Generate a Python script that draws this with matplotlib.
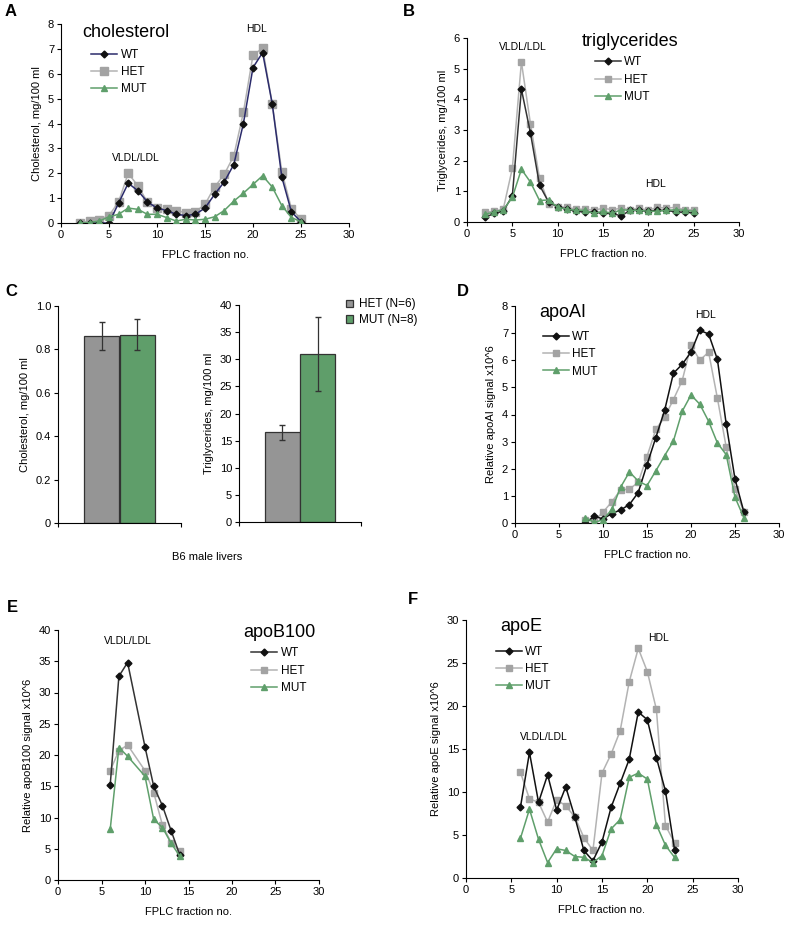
import numpy as np
import matplotlib
matplotlib.use("Agg")
import matplotlib.pyplot as plt

plt.rcParams['font.family'] = ['Liberation Sans', 'DejaVu Sans']
plt.rcParams['font.size'] = 8

# colours
c_wt = '#111111'
c_het = '#a3a3a3'
c_mut = '#5f9f6b'

# panel A: cholesterol
a_x = list(range(2, 26))
a_wt = [0.0, 0.0, 0.0, 0.0, 0.8, 1.6, 1.3, 0.85, 0.6, 0.5, 0.35, 0.3, 0.35, 0.6,
        1.15, 1.65, 2.35, 4.0, 6.25, 6.85, 4.8, 1.85, 0.45, 0.05]
a_het = [0.02, 0.07, 0.13, 0.3, 0.85, 2.0, 1.5, 0.85, 0.6, 0.55, 0.5, 0.42, 0.45, 0.75,
         1.45, 1.95, 2.7, 4.45, 6.75, 7.03, 4.8, 2.07, 0.58, 0.15]
a_mut = [0.0, 0.02, 0.08, 0.25, 0.35, 0.6, 0.55, 0.35, 0.35, 0.22, 0.08, 0.15, 0.12, 0.15,
         0.25, 0.5, 0.88, 1.2, 1.55, 1.9, 1.45, 0.7, 0.22, 0.05]

# panel B: triglycerides
b_x = list(range(2, 26))
b_wt = [0.15, 0.28, 0.35, 0.85, 4.33, 2.9, 1.2, 0.65, 0.5, 0.42, 0.35, 0.33, 0.33, 0.28,
        0.28, 0.2, 0.38, 0.38, 0.35, 0.38, 0.38, 0.33, 0.32, 0.3]
b_het = [0.32, 0.35, 0.42, 1.75, 5.22, 3.2, 1.42, 0.6, 0.5, 0.48, 0.42, 0.42, 0.38, 0.45,
         0.4, 0.45, 0.4, 0.45, 0.38, 0.48, 0.45, 0.48, 0.4, 0.4]
b_mut = [0.25, 0.33, 0.4, 0.8, 1.72, 1.3, 0.7, 0.72, 0.48, 0.42, 0.38, 0.38, 0.28, 0.35,
         0.28, 0.4, 0.38, 0.38, 0.35, 0.35, 0.38, 0.4, 0.38, 0.35]

# panel C: liver lipids
c_groups = ['HET (N=6)', 'MUT (N=8)']
c_chol = [0.863, 0.868]
c_chol_err = [0.065, 0.071]
c_tg = [16.5, 31.0]
c_tg_err = [1.35, 6.85]

# panel D: apoAI
d_x = list(range(8, 27))
d_wt = [0.0, 0.25, 0.15, 0.35, 0.48, 0.68, 1.12, 2.15, 3.15, 4.15, 5.52, 5.85, 6.3, 7.1,
        6.97, 6.03, 3.65, 1.62, 0.42]
d_het = [0.1, 0.08, 0.4, 0.78, 1.22, 1.25, 1.5, 2.45, 3.45, 3.9, 4.55, 5.25, 6.55, 6.0,
         6.3, 4.6, 2.8, 1.25, 0.42]
d_mut = [0.2, 0.02, 0.12, 0.5, 1.32, 1.88, 1.55, 1.38, 1.92, 2.48, 3.02, 4.12, 4.72, 4.38,
         3.75, 2.95, 2.52, 0.95, 0.2]

# panel E: apoB100
e_x = [6, 7, 8, 10, 11, 12, 13, 14]
e_wt = [15.2, 32.6, 34.8, 21.3, 15.0, 11.9, 7.9, 4.0]
e_het = [17.5, 20.7, 21.6, 17.5, 14.0, 8.8, 6.0, 4.6]
e_mut = [8.1, 21.2, 19.8, 16.6, 9.7, 8.4, 5.9, 3.8]

# panel F: apoE
f_x = list(range(6, 24))
f_wt = [8.2, 14.6, 8.8, 12.0, 7.9, 10.6, 7.1, 3.2, 2.0, 4.2, 8.2, 11.0, 13.8, 19.3,
        18.4, 14.0, 10.1, 3.3]
f_het = [12.3, 9.2, 8.8, 6.5, 9.1, 8.4, 7.1, 4.7, 3.2, 12.2, 14.4, 17.1, 22.8, 26.7,
         24.0, 19.6, 6.1, 4.1]
f_mut = [4.6, 8.0, 4.5, 1.8, 3.4, 3.2, 2.5, 2.4, 1.8, 2.6, 5.7, 6.8, 11.7, 12.2,
         11.5, 6.2, 3.8, 2.4]

W, H = 786, 925
fig = plt.figure(figsize=(W / 100, H / 100), dpi=100)


def box(l, r, t, b):
    # pixel box -> figure fraction
    return fig.add_axes([l / W, 1 - b / H, (r - l) / W, (b - t) / H])


def style(ax):
    ax.spines['top'].set_visible(False)
    ax.spines['right'].set_visible(False)
    ax.tick_params(length=3, width=0.8, pad=2, labelsize=8)


def lines(ax, x, wt, het, mut, ylim, ystep, ylabel, big=False, wt_line=c_wt):
    sq = 6 if big else 4.5
    ax.plot(x, het, color='#b3b3b3', lw=1.1, marker='s', ms=sq, mfc=c_het, mec=c_het, label='HET', zorder=2)
    ax.plot(x, wt, color=wt_line, lw=1.1, marker='D', ms=3.5, mfc=c_wt, mec=c_wt, label='WT', zorder=3)
    ax.plot(x, mut, color=c_mut, lw=1.1, marker='^', ms=4.5, mfc=c_mut, mec=c_mut, label='MUT', zorder=4)
    ax.set_xlim(0, 30)
    ax.set_xticks(range(0, 31, 5))
    ax.set_ylim(ylim)
    ax.set_yticks(np.arange(ylim[0], ylim[1] + ystep / 2, ystep))
    ax.set_xlabel('FPLC fraction no.', fontsize=8, labelpad=7)
    ax.set_ylabel(ylabel, fontsize=8, labelpad=4)
    style(ax)


def leg(ax, x, y):
    h, l = ax.get_legend_handles_labels()
    order = [1, 0, 2]
    ax.legend([h[i] for i in order], [l[i] for i in order], loc='upper left',
              bbox_to_anchor=(x, y), frameon=False, fontsize=8.5, handlelength=2.2,
              handletextpad=0.3, labelspacing=0.45, borderpad=0, borderaxespad=0)


# A
axA = box(61, 349, 24, 223)
lines(axA, a_x, a_wt, a_het, a_mut, (0, 8), 1, 'Cholesterol, mg/100 ml', big=True, wt_line='#2b2b6b')
axA.text(2.2, 7.67, 'cholesterol', fontsize=13, va='center')
axA.text(20.4, 7.8, 'HDL', fontsize=7.5, ha='center', va='center')
axA.text(7.8, 2.6, 'VLDL/LDL', fontsize=7.5, ha='center', va='center')
leg(axA, 0.105, 0.875)

# B
axB = box(467, 739, 38, 222)
lines(axB, b_x, b_wt, b_het, b_mut, (0, 6), 1, 'Triglycerides, mg/100 ml', wt_line='#333333')
axB.text(12.7, 5.88, 'triglycerides', fontsize=13, va='center')
axB.text(6.2, 5.7, 'VLDL/LDL', fontsize=7.5, ha='center', va='center')
axB.text(20.8, 1.25, 'HDL', fontsize=7.5, ha='center', va='center')
leg(axB, 0.47, 0.9)

# C
bar_x = [0.355, 0.645]
bar_c = ['#959595', '#5f9e6a']
axC1 = box(58, 181, 306, 523)
axC1.bar(bar_x, c_chol, width=0.29, color=bar_c, edgecolor='#333333', lw=0.9,
         yerr=c_chol_err, error_kw=dict(ecolor='#333333', elinewidth=0.9, capsize=2))
axC1.set_xlim(0, 1)
axC1.set_ylim(0, 1.0)
axC1.set_yticks([0, 0.2, 0.4, 0.6, 0.8, 1.0])
axC1.set_yticklabels(['0', '0.2', '0.4', '0.6', '0.8', '1.0'])
axC1.set_xticks([0, 1])
axC1.set_xticklabels(['', ''])
axC1.set_ylabel('Cholesterol, mg/100 ml', fontsize=8, labelpad=4)
style(axC1)

axC2 = box(239, 361, 305, 522)
bars = axC2.bar(bar_x, c_tg, width=0.29, color=bar_c, edgecolor='#333333', lw=0.9,
                yerr=c_tg_err, error_kw=dict(ecolor='#333333', elinewidth=0.9, capsize=2))
axC2.set_xlim(0, 1)
axC2.set_ylim(0, 40)
axC2.set_yticks(range(0, 41, 5))
axC2.set_xticks([0, 1])
axC2.set_xticklabels(['', ''])
axC2.set_ylabel('Triglycerides, mg/100 ml', fontsize=8, labelpad=4)
style(axC2)
axC2.legend(bars, c_groups, loc='upper left', bbox_to_anchor=(0.88, 1.03), frameon=False,
            fontsize=8.5, handlelength=0.6, handleheight=0.6, handletextpad=0.5,
            labelspacing=0.3, borderpad=0, borderaxespad=0)
fig.text(207 / W, 1 - 557 / H, 'B6 male livers', fontsize=8, ha='center', va='center')

# D
axD = box(515, 779, 306, 523)
lines(axD, d_x, d_wt, d_het, d_mut, (0, 8), 1, 'Relative apoAI signal x10^6')
axD.text(2.8, 7.75, 'apoAI', fontsize=13, va='center')
axD.text(21.7, 7.65, 'HDL', fontsize=7.5, ha='center', va='center')
leg(axD, 0.105, 0.885)

# E
axE = box(58, 319, 630, 880)
lines(axE, e_x, e_wt, e_het, e_mut, (0, 40), 5, 'Relative apoB100 signal x10^6', wt_line='#333333')
axE.text(21.3, 39.6, 'apoB100', fontsize=13, va='center')
axE.text(8.05, 38.2, 'VLDL/LDL', fontsize=7.5, ha='center', va='center')
leg(axE, 0.74, 0.93)

# F
axF = box(466, 738, 620, 878)
lines(axF, f_x, f_wt, f_het, f_mut, (0, 30), 5, 'Relative apoE signal x10^6')
axF.text(3.8, 29.2, 'apoE', fontsize=13, va='center')
axF.text(21.2, 27.9, 'HDL', fontsize=7.5, ha='center', va='center')
axF.text(8.6, 16.4, 'VLDL/LDL', fontsize=7.5, ha='center', va='center')
leg(axF, 0.11, 0.9)

# panel letters
for lab, px, py in [('A', 5, 12), ('B', 403, 12), ('C', 5, 292), ('D', 457, 291),
                    ('E', 7, 607), ('F', 408, 600)]:
    fig.text(px / W, 1 - py / H, lab, fontsize=12, fontweight='bold', va='center')

fig.savefig('out.png', dpi=100)
